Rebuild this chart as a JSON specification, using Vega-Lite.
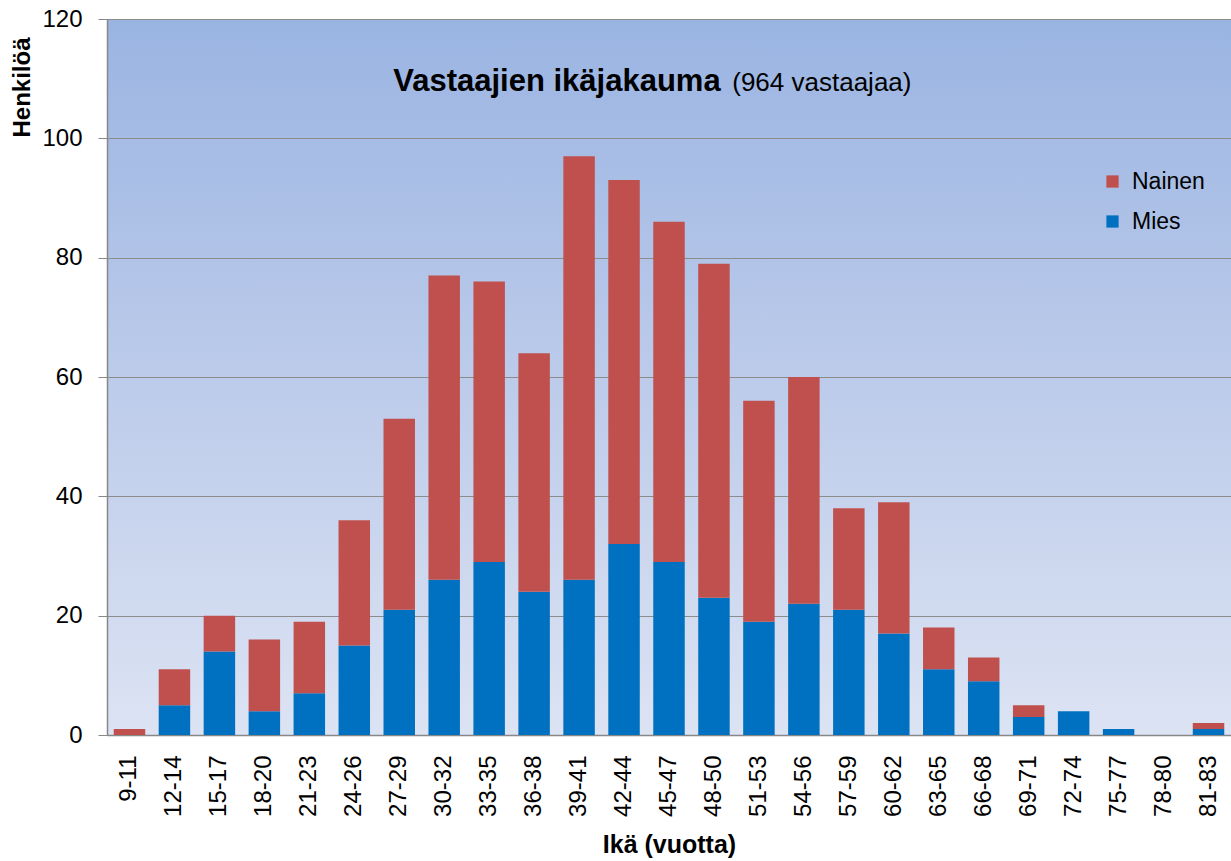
{
  "$schema": "https://vega.github.io/schema/vega-lite/v6.json",
  "width": 1124,
  "height": 716,
  "autosize": {"type": "none"},
  "padding": {"left": 107, "top": 19, "right": 0, "bottom": 126},
  "background": "white",
  "config": {
    "font": "Liberation Sans",
    "view": {
      "stroke": null,
      "fill": {
        "gradient": "linear",
        "x1": 0, "y1": 0, "x2": 0, "y2": 1,
        "stops": [
          {"offset": 0, "color": "#9ab4e2"},
          {"offset": 0.5, "color": "#bccbea"},
          {"offset": 1, "color": "#dce3f3"}
        ]
      }
    }
  },
  "data": {
    "values": [
      {"age": "9-11", "sex": "Mies", "count": 0}, {"age": "9-11", "sex": "Nainen", "count": 1},
      {"age": "12-14", "sex": "Mies", "count": 5}, {"age": "12-14", "sex": "Nainen", "count": 6},
      {"age": "15-17", "sex": "Mies", "count": 14}, {"age": "15-17", "sex": "Nainen", "count": 6},
      {"age": "18-20", "sex": "Mies", "count": 4}, {"age": "18-20", "sex": "Nainen", "count": 12},
      {"age": "21-23", "sex": "Mies", "count": 7}, {"age": "21-23", "sex": "Nainen", "count": 12},
      {"age": "24-26", "sex": "Mies", "count": 15}, {"age": "24-26", "sex": "Nainen", "count": 21},
      {"age": "27-29", "sex": "Mies", "count": 21}, {"age": "27-29", "sex": "Nainen", "count": 32},
      {"age": "30-32", "sex": "Mies", "count": 26}, {"age": "30-32", "sex": "Nainen", "count": 51},
      {"age": "33-35", "sex": "Mies", "count": 29}, {"age": "33-35", "sex": "Nainen", "count": 47},
      {"age": "36-38", "sex": "Mies", "count": 24}, {"age": "36-38", "sex": "Nainen", "count": 40},
      {"age": "39-41", "sex": "Mies", "count": 26}, {"age": "39-41", "sex": "Nainen", "count": 71},
      {"age": "42-44", "sex": "Mies", "count": 32}, {"age": "42-44", "sex": "Nainen", "count": 61},
      {"age": "45-47", "sex": "Mies", "count": 29}, {"age": "45-47", "sex": "Nainen", "count": 57},
      {"age": "48-50", "sex": "Mies", "count": 23}, {"age": "48-50", "sex": "Nainen", "count": 56},
      {"age": "51-53", "sex": "Mies", "count": 19}, {"age": "51-53", "sex": "Nainen", "count": 37},
      {"age": "54-56", "sex": "Mies", "count": 22}, {"age": "54-56", "sex": "Nainen", "count": 38},
      {"age": "57-59", "sex": "Mies", "count": 21}, {"age": "57-59", "sex": "Nainen", "count": 17},
      {"age": "60-62", "sex": "Mies", "count": 17}, {"age": "60-62", "sex": "Nainen", "count": 22},
      {"age": "63-65", "sex": "Mies", "count": 11}, {"age": "63-65", "sex": "Nainen", "count": 7},
      {"age": "66-68", "sex": "Mies", "count": 9}, {"age": "66-68", "sex": "Nainen", "count": 4},
      {"age": "69-71", "sex": "Mies", "count": 3}, {"age": "69-71", "sex": "Nainen", "count": 2},
      {"age": "72-74", "sex": "Mies", "count": 4}, {"age": "72-74", "sex": "Nainen", "count": 0},
      {"age": "75-77", "sex": "Mies", "count": 1}, {"age": "75-77", "sex": "Nainen", "count": 0},
      {"age": "78-80", "sex": "Mies", "count": 0}, {"age": "78-80", "sex": "Nainen", "count": 0},
      {"age": "81-83", "sex": "Mies", "count": 1}, {"age": "81-83", "sex": "Nainen", "count": 1}
    ]
  },
  "layer": [
    {
      "mark": {"type": "bar"},
      "encoding": {
        "x": {
          "field": "age", "type": "nominal", "sort": null,
          "scale": {"paddingInner": 0.3, "paddingOuter": 0.15},
          "axis": {
            "title": "Ikä (vuotta)", "titleFontSize": 25, "titleFontWeight": "bold",
            "titleBaseline": "top", "titleY": 97, "titleColor": "black",
            "labelAngle": -90, "labelFontSize": 24, "labelPadding": 20, "labelColor": "black",
            "labelOverlap": false, "ticks": false, "domainColor": "#888888", "domainWidth": 1.5
          }
        },
        "y": {
          "field": "count", "type": "quantitative", "stack": "zero",
          "scale": {"domain": [0, 120], "nice": false},
          "axis": {
            "values": [0, 20, 40, 60, 80, 100, 120],
            "title": "Henkilöä", "titleFontSize": 24, "titleFontWeight": "bold", "titleColor": "black",
            "titleAngle": -90, "titleAlign": "right", "titleBaseline": "middle",
            "titleX": -85, "titleY": 18,
            "labelFontSize": 24, "labelColor": "black", "labelPadding": 16,
            "tickSize": 9, "tickColor": "#888888", "domainColor": "#888888", "domainWidth": 1.5,
            "grid": true, "gridColor": "#8c8c8c", "gridWidth": 1
          }
        },
        "color": {
          "field": "sex", "type": "nominal",
          "scale": {"domain": ["Nainen", "Mies"], "range": ["#C0504D", "#0070C0"]},
          "legend": {
            "orient": "none", "legendX": 994, "legendY": 151, "title": null, "padding": 0,
            "symbolType": "square", "symbolSize": 150, "symbolStrokeWidth": 0,
            "labelFontSize": 23, "labelColor": "black", "labelOffset": 8, "rowPadding": 16
          }
        },
        "order": {"field": "sex", "sort": "ascending"}
      }
    },
    {
      "data": {"values": [{"label": "Vastaajien ikäjakauma"}]},
      "mark": {"type": "text", "align": "left", "baseline": "alphabetic", "fontWeight": "bold", "fontSize": 31, "dx": -6, "color": "black"},
      "encoding": {
        "x": {"datum": "27-29"},
        "y": {"datum": 108},
        "text": {"field": "label"}
      }
    },
    {
      "data": {"values": [{"label": "(964 vastaajaa)"}]},
      "mark": {"type": "text", "align": "left", "baseline": "alphabetic", "fontSize": 26, "dx": 333, "color": "black"},
      "encoding": {
        "x": {"datum": "27-29"},
        "y": {"datum": 108},
        "text": {"field": "label"}
      }
    }
  ]
}
